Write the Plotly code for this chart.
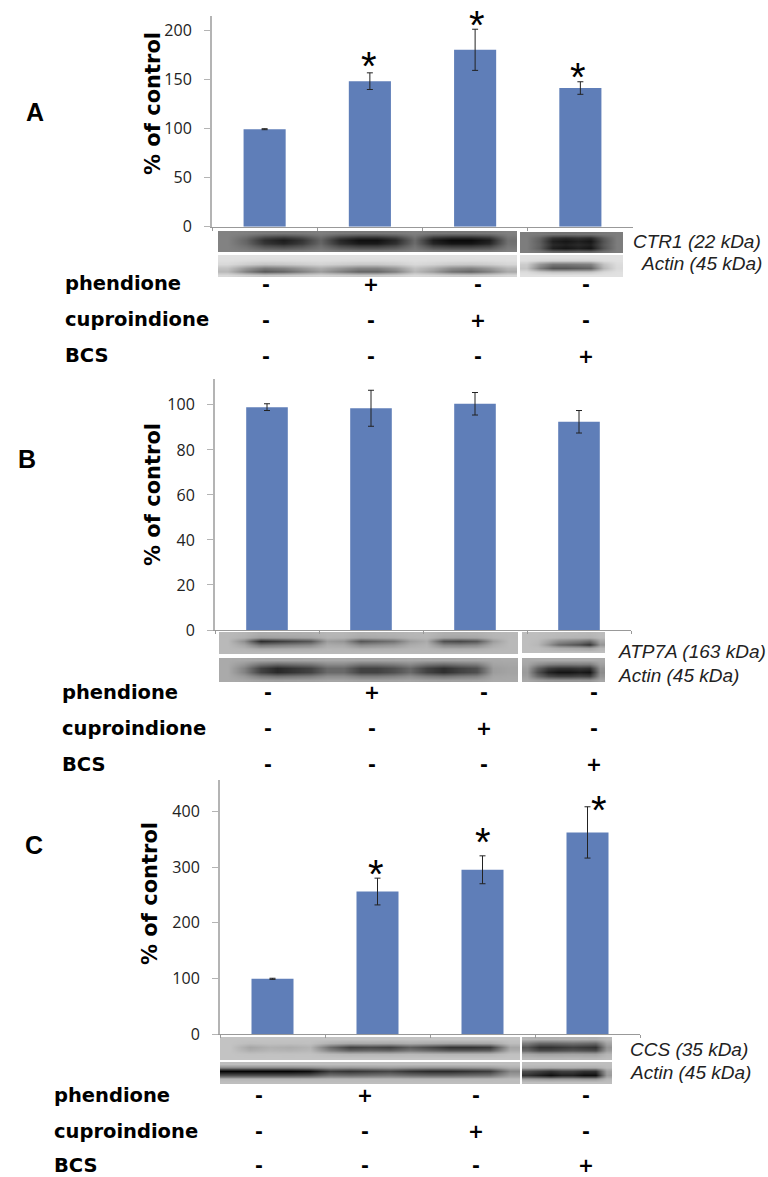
import plotly.graph_objects as go

W, H = 768, 1177
BAR = "#5F7EB8"
AXIS = "#B4B4B4"
categories = ["control", "phendione", "cuproindione", "BCS"]

values_a = [99.5, 148.5, 180.5, 141.5]
errors_a = [0.5, 8.5, 21, 6.4]
values_b = [99, 98.5, 100.5, 92.5]
errors_b = [1.5, 8, 5, 5]
values_c = [99.5, 256, 295, 362]
errors_c = [1, 24, 25, 46]

ticks_a = [0, 50, 100, 150, 200]
ticks_b = [0, 20, 40, 60, 80, 100]
ticks_c = [0, 100, 200, 300, 400]

treatments = ["phendione", "cuproindione", "BCS"]
signs = [["-", "+", "-", "-"], ["-", "-", "+", "-"], ["-", "-", "-", "+"]]

# panel frames: left, right, top, bottom px and y-axis maximum
panels = [
    dict(vals=values_a, errs=errors_a, ticks=ticks_a, l=212, r=633, t=16, b=226.7, ymax=215),
    dict(vals=values_b, errs=errors_b, ticks=ticks_b, l=215, r=631, t=379, b=630, ymax=111.5),
    dict(vals=values_c, errs=errors_c, ticks=ticks_c, l=220, r=640, t=780, b=1034.3, ymax=456),
]

# blot strips: x0, x1, y0, y1, background grey, darkest grey, lane darkness, row profile
blots = [
    (218, 517, 231, 252, 130, 10, [0, .25, .7, .85, .65, .25, .75, .95, .95, .75, .2, .85, 1, 1, .85, .15], [.1, .6, 1, .9, .5, .1]),
    (520, 623, 232, 253, 125, 10, [0, .3, .9, 1, .9, 1, .4, 0], [.1, .7, .9, .8, .9, .2]),
    (218, 517, 255, 277, 225, 85, [.3, .7, 1, .9, .7, .5, .7, .9, .9, .7, .3, .5, .8, .9, .7, .4], [0, .05, .2, .75, 1, .2]),
    (520, 623, 255, 277, 225, 85, [.2, .7, 1, 1, .95, .9, .3, .05], [0, .1, .75, 1, .25, 0]),
    (219, 518, 632, 654, 185, 45, [0, .3, 1, .9, .8, .7, .2, .25, .7, .6, .5, .2, .1, .75, .8, .7, .2, 0], [.1, .2, 1, .45, .1, 0]),
    (522, 605, 632, 653, 190, 50, [0, .05, .3, .6, .7, .8, 1, .3], [.05, .1, .6, 1, .2, 0]),
    (219, 518, 658, 682, 170, 40, [0, .3, .8, 1, .9, .8, .5, .5, .8, .8, .7, .5, .8, .95, .8, .7, .1, .05], [.05, .5, 1, 1, .45, .1]),
    (522, 605, 658, 682, 170, 20, [.1, .6, .9, 1, 1, .95, 1, .2], [0, .3, .8, 1, .7, .15]),
    (220, 520, 1037, 1060, 195, 50, [0, .2, .12, .15, .1, .6, .9, .85, .9, .7, .85, 1, 1, .95, .2], [0, .2, 1, .7, .1, 0]),
    (522, 612, 1037, 1060, 190, 50, [.75, 1, 1, .95, .9, .95, 1, .3], [.1, .6, 1, .8, .2, .05]),
    (220, 520, 1062, 1084, 190, 5, [1, 1, 1, 1, .95, .7, .75, .7, .65, .75, .8, .8, .75, .7, .3], [0, .3, 1, .6, .05, 0]),
    (522, 612, 1062, 1084, 190, 15, [.8, .9, 1, .9, .9, 1, 1, .2], [0, .1, .8, 1, .25, 0]),
]

# texts: text, x px, y px
blot_labels = [
    ("CTR1 (22 kDa)", 631, 241), ("Actin (45 kDa)", 639, 263),
    ("ATP7A (163 kDa)", 616, 651), ("Actin (45 kDa)", 616, 675),
    ("CCS (35 kDa)", 628, 1049), ("Actin (45 kDa)", 628, 1072),
]
panel_letters = [("A", 35, 112), ("B", 27, 459), ("C", 34, 845)]
axis_titles = [(153, 104), (153, 495), (150, 894)]
stars = [(369, 66), (477, 25), (578, 77), (376, 874), (483, 842), (599, 810)]
row_sets = [
    dict(lx=63, ys=[284, 320, 356], xs=[266, 371, 478, 586]),
    dict(lx=60, ys=[692, 728, 764], xs=[268, 372, 484, 594]),
    dict(lx=52, ys=[1095, 1131, 1165], xs=[259, 365, 476, 586]),
]

def fx(p): return p / W
def fy(p): return 1 - p / H

fig = go.Figure()
layout = dict(
    width=W, height=H, margin=dict(l=0, r=0, t=0, b=0, autoexpand=False), showlegend=False,
    paper_bgcolor="white", plot_bgcolor="rgba(0,0,0,0)", bargap=0.6,
    font=dict(family="Liberation Sans", color="black"),
    xaxis=dict(domain=[0, 1], range=[0, W], visible=False, fixedrange=True, automargin=False),
    yaxis=dict(domain=[0, 1], range=[H, 0], visible=False, fixedrange=True, automargin=False),
)

for x0, x1, y0, y1, bg, dark, lanes, rows in blots:
    dx = (x1 - x0) / len(lanes)
    dy = (y1 - y0) / len(rows)
    z = [[bg - (bg - dark) * c * r for c in lanes] for r in rows]
    fig.add_trace(go.Heatmap(
        z=z, x0=x0 + dx / 2, dx=dx, y0=y0 + dy / 2, dy=dy, xaxis="x", yaxis="y",
        zmin=0, zmax=255, zsmooth="best", showscale=False, hoverinfo="skip",
        colorscale=[[0, "black"], [1, "white"]],
    ))

for i, p in enumerate(panels, start=2):
    fig.add_trace(go.Bar(
        x=categories, y=p["vals"], marker=dict(color=BAR, line=dict(width=0)),
        error_y=dict(type="data", array=p["errs"], color="#222222", thickness=1, width=3),
        xaxis=f"x{i}", yaxis=f"y{i}",
    ))
    layout[f"xaxis{i}"] = dict(
        domain=[fx(p["l"]), fx(p["r"])], anchor=f"y{i}", type="category",
        categoryorder="array", categoryarray=categories, range=[-0.5, 3.5],
        showticklabels=False, ticks="outside", ticklen=3, tickcolor="#999999",
        tickson="boundaries", showline=True, linecolor="#999999", linewidth=1,
        showgrid=False, zeroline=False, fixedrange=True, automargin=False,
    )
    layout[f"yaxis{i}"] = dict(
        domain=[fy(p["b"]), fy(p["t"])], anchor=f"x{i}", range=[0, p["ymax"]],
        tickmode="array", tickvals=p["ticks"], ticks="outside", ticklen=6,
        tickcolor=AXIS, showline=True, linecolor=AXIS, linewidth=2, showgrid=False,
        zeroline=False, fixedrange=True, ticklabelstandoff=9, automargin=False,
        tickfont=dict(family="Open Sans", size=16, color="#222222"),
    )

ann = []
def text(t, x, y, size, family="DejaVu Sans", bold=False, italic=False, xa="left", angle=0, color="black"):
    s = f"<b>{t}</b>" if bold else t
    s = f"<i>{s}</i>" if italic else s
    ann.append(dict(text=s, x=fx(x), y=fy(y), xref="paper", yref="paper", xanchor=xa, yanchor="middle",
                    showarrow=False, textangle=angle, font=dict(family=family, size=size, color=color)))

for t, x, y in blot_labels:
    text(t, x, y, 19, "Liberation Sans", italic=True, color="#222222")
for t, x, y in panel_letters:
    text(t, x, y, 25, "Liberation Sans", bold=True, xa="center")
for x, y in axis_titles:
    text("% of control", x, y, 21, bold=True, xa="center", angle=-90)
for x, y in stars:
    text("*", x, y, 40, "Liberation Sans", xa="center")
for rs in row_sets:
    for name, sgn, y in zip(treatments, signs, rs["ys"]):
        text(name, rs["lx"], y, 19.5, bold=True)
        for s, x in zip(sgn, rs["xs"]):
            text(s, x, y, 19, bold=True, xa="center")

layout["annotations"] = ann
fig.update_layout(**layout)
fig.write_html("out.html", post_script="document.body.style.margin='0';", config={"displayModeBar": False})
